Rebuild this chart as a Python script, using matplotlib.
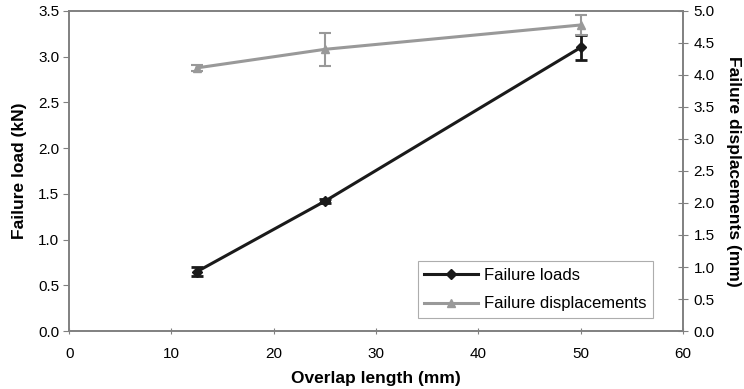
import matplotlib
matplotlib.use("Agg")
import matplotlib.pyplot as plt
from matplotlib.lines import Line2D

plt.rcParams['font.family'] = ['Liberation Sans', 'DejaVu Sans']

overlap = [12.5, 25, 50]
loads = [0.65, 1.42, 3.10]
loads_err = [0.05, 0.02, 0.14]
disp = [4.11, 4.40, 4.78]
disp_err = [0.05, 0.26, 0.15]

fig = plt.figure(figsize=(7.44, 3.89), dpi=100)
ax = fig.add_axes([0.093, 0.149, 0.825, 0.823])
ax2 = ax.twinx()

ax.errorbar(overlap, loads, yerr=loads_err, color='#1a1a1a', lw=2.2,
            marker='D', ms=5, capsize=4, capthick=2, elinewidth=2)
ax2.errorbar(overlap, disp, yerr=disp_err, color='#999999', lw=2.2,
             marker='^', ms=6, capsize=4, capthick=1.5, elinewidth=1.5)

ax.set_xlim(0, 60)
ax.set_ylim(0, 3.5)
ax2.set_ylim(0, 5.0)
ax.set_xticks(range(0, 61, 10))
ax.set_yticks([i * 0.5 for i in range(8)])
ax.set_yticklabels([f"{i * 0.5:.1f}" for i in range(8)])
ax2.set_yticks([i * 0.5 for i in range(11)])
ax2.set_yticklabels([f"{i * 0.5:.1f}" for i in range(11)])

for a in (ax, ax2):
    for s in a.spines.values():
        s.set_color('#808080')
        s.set_linewidth(1.2)
ax.tick_params(axis='y', labelsize=11, direction='out', length=4, color='#808080', pad=3)
ax.tick_params(axis='x', labelsize=11, direction='inout', length=5, color='#808080', pad=9)
ax2.tick_params(axis='y', labelsize=11, direction='inout', length=7, color='#808080', pad=4)

ax.set_xlabel("Overlap length (mm)", fontsize=12.5, fontweight='bold', labelpad=7)
ax.set_ylabel("Failure load (kN)", fontsize=12.5, fontweight='bold', labelpad=8)
ax2.set_ylabel("Failure displacements (mm)", fontsize=12.5, fontweight='bold',
               rotation=270, labelpad=19)

handles = [
    Line2D([], [], color='#1a1a1a', lw=2.2, marker='D', ms=5),
    Line2D([], [], color='#999999', lw=2.2, marker='^', ms=6),
]
leg = ax.legend(handles, ['Failure loads', 'Failure displacements'],
                loc='lower right', bbox_to_anchor=(0.96, 0.025), fontsize=12,
                frameon=True, fancybox=False, edgecolor='#999999',
                handlelength=3.2, handletextpad=0.4, borderaxespad=0.3,
                labelspacing=0.8)
leg.get_frame().set_linewidth(0.8)

fig.savefig("out.png", dpi=100)
